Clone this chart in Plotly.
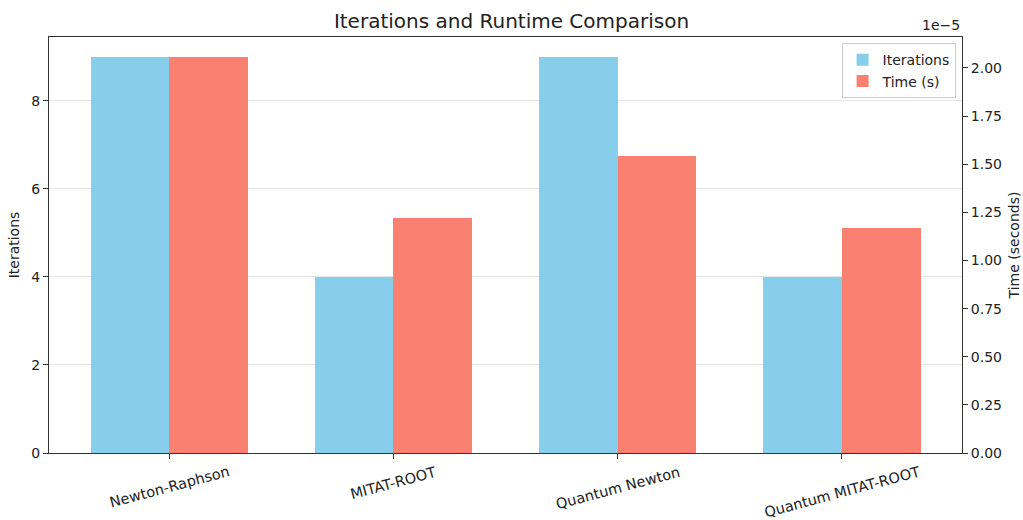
import plotly.graph_objects as go

methods = ["Newton-Raphson", "MITAT-ROOT", "Quantum Newton", "Quantum MITAT-ROOT"]
iterations = [9, 4, 9, 4]
times_s = [2.058e-5, 1.221e-5, 1.543e-5, 1.168e-5]
time_ticks = [0, 0.25e-5, 0.5e-5, 0.75e-5, 1.0e-5, 1.25e-5, 1.5e-5, 1.75e-5, 2.0e-5]

x = list(range(len(methods)))
w = 0.35
FONT = "DejaVu Sans"

fig = go.Figure()
fig.add_trace(go.Bar(x=x, y=iterations, width=w, offset=-w, name="Iterations",
                     marker=dict(color="#87CEEB", line=dict(width=0)), yaxis="y"))
fig.add_trace(go.Bar(x=x, y=times_s, width=w, offset=0, name="Time (s)",
                     marker=dict(color="#FA8072", line=dict(width=0)), yaxis="y2"))

ymax1 = max(iterations) * 1.05
ymax2 = max(times_s) * 1.05

fig.update_layout(
    width=1023, height=520,
    margin=dict(l=49, r=61, t=37, b=67, autoexpand=False),
    paper_bgcolor="white", plot_bgcolor="white",
    font=dict(family=FONT, size=14, color="#222"),
    title=dict(text="Iterations and Runtime Comparison", x=0.5, xanchor="center",
               y=1 - 21 / 520, yanchor="middle", font=dict(size=20, color="#222")),
    showlegend=True,
    legend=dict(x=0.993, y=0.985, xanchor="right", yanchor="top",
                bgcolor="rgba(255,255,255,0.8)", bordercolor="#ccc", borderwidth=1,
                font=dict(size=14), traceorder="normal"),
    xaxis=dict(range=[-0.535, 3.535], tickmode="array", tickvals=x, ticktext=methods,
               showticklabels=False, automargin=False,
               ticks="outside", ticklen=5, tickcolor="#333",
               showline=True, linecolor="#333", linewidth=1, mirror=True,
               showgrid=False, zeroline=False),
    yaxis=dict(range=[0, ymax1], tickmode="array", tickvals=[0, 2, 4, 6, 8],
               automargin=False,
               ticks="outside", ticklen=5, tickcolor="#333",
               showline=True, linecolor="#333", linewidth=1,
               showgrid=True, gridcolor="rgba(0,0,0,0.1)", gridwidth=1, zeroline=False,
               title=dict(text="Iterations", font=dict(size=14), standoff=8),
               tickfont=dict(size=14)),
    yaxis2=dict(range=[0, ymax2], overlaying="y", side="right", tickmode="array",
                automargin=False,
                tickvals=time_ticks, ticktext=[f"{v*1e5:.2f}" for v in time_ticks],
                ticks="outside", ticklen=5, tickcolor="#333",
                showline=True, linecolor="#333", linewidth=1,
                showgrid=False, zeroline=False,
                title=dict(text="Time (seconds)", font=dict(size=14), standoff=8),
                tickfont=dict(size=14)),
    bargap=0,
)

for xi, name in zip(x, methods):
    fig.add_annotation(text=name, xref="x", yref="paper", x=xi, y=0,
                       xanchor="center", yanchor="top", yshift=-8, textangle=-15,
                       showarrow=False, font=dict(size=14.5, color="#222"))

fig.add_annotation(text="1e\u22125", xref="paper", yref="paper", x=1.0, y=1.0,
                   xanchor="right", yanchor="bottom", yshift=2, showarrow=False,
                   font=dict(size=14, color="#222"))

fig.write_html("out.html", config={"displayModeBar": False},
               post_script="document.body.style.margin='0';document.body.style.padding='0';")
